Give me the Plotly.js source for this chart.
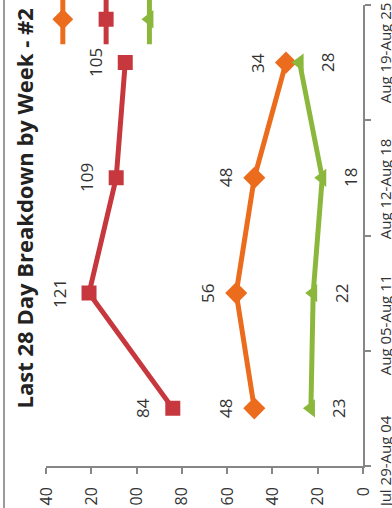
<!DOCTYPE html>
<html>
<head>
<meta charset="utf-8">
<script src="https://cdn.plot.ly/plotly-3.0.1.min.js"></script>
<style>
html,body{margin:0;padding:0;width:392px;height:508px;overflow:hidden;background:#fff;}
#wrap{position:absolute;left:0;top:0;width:508px;height:392px;transform-origin:0 0;transform:translate(0px,508px) rotate(-90deg);}
</style>
</head>
<body>
<div id="wrap"></div>
<script>
// ---- data ----
const categories = ['Jul 29-Aug 04', 'Aug 05-Aug 11', 'Aug 12-Aug 18', 'Aug 19-Aug 25'];
const seriesNames = ['Series 1', 'Series 2', 'Series 3'];
const orangeValues = [48, 56, 48, 34];
const redValues = [84, 121, 109, 105];
const greenValues = [23, 22, 18, 28];
const yTickValues = [0, 20, 40, 60, 80, 100, 120, 140];
const titleText = 'Last 28 Day Breakdown by Week - #2';

// ---- styles ----
const ORANGE = '#EC6C1E', RED = '#C7383E', GREEN = '#8BB83C';
const AXIS = '#868686';
const FONT = 'Open Sans, sans-serif';

function lineTrace(name, values, color, symbol, size) {
  return {
    type: 'scatter', mode: 'lines+markers', name: name,
    x: categories, y: values,
    line: {color: color, width: 5},
    marker: {symbol: symbol, size: size, color: color},
    hoverinfo: 'skip'
  };
}

const categoryIndex = categories.map((c, i) => i);

const traces = [
  lineTrace(seriesNames[0], orangeValues, ORANGE, 'diamond', 17),
  lineTrace(seriesNames[1], redValues, RED, 'square', 15),
  lineTrace(seriesNames[2], greenValues, GREEN, 'triangle-up', 16),
  // carrier for the category label axis (draws nothing)
  {type: 'scatter', mode: 'none', x: categoryIndex, y: redValues, xaxis: 'x2',
   showlegend: false, hoverinfo: 'skip'}
];

function labels(values, shift) {
  return values.map((v, i) => ({
    x: categories[i], y: v, xref: 'x', yref: 'y', text: String(v),
    showarrow: false, yshift: shift, xanchor: 'center', yanchor: 'middle',
    font: {family: FONT, size: 17, color: '#333333'}
  }));
}
const annotations = [].concat(
  labels(orangeValues, 29),
  labels(redValues, 30),
  labels(greenValues, -28)
);

const layout = {
  width: 508, height: 392,
  margin: {l: 42, r: 5, t: 46, b: 29, autoexpand: false},
  paper_bgcolor: '#ffffff', plot_bgcolor: '#ffffff',
  font: {family: FONT, color: '#333333'},
  showlegend: true,
  title: {
    text: '<b>' + titleText + '</b>',
    font: {family: FONT, size: 22, color: '#222222'},
    xref: 'container', x: 0.59, xanchor: 'center',
    yref: 'container', y: 0.936, yanchor: 'middle'
  },
  xaxis: {
    type: 'category', range: [-0.5, 3.5],
    tickson: 'boundaries', ticks: 'outside', ticklen: 6, tickwidth: 2, tickcolor: AXIS,
    showline: true, linecolor: AXIS, linewidth: 2,
    showgrid: false, zeroline: false,
    showticklabels: false,
    fixedrange: true
  },
  xaxis2: {
    overlaying: 'x', anchor: 'y', side: 'bottom',
    type: 'linear', range: [-0.037, 3.353],
    tickmode: 'array', tickvals: categoryIndex, ticktext: categories,
    ticks: 'outside', ticklen: 6, tickcolor: 'rgba(0,0,0,0)',
    showline: false, showgrid: false, zeroline: false,
    tickangle: 0,
    ticklabeloverflow: 'allow',
    tickfont: {family: FONT, size: 15, color: '#333333'},
    ticklabelstandoff: 3,
    fixedrange: true
  },
  yaxis: {
    range: [0, 140], tickvals: yTickValues,
    ticks: 'outside', ticklen: 6, tickwidth: 2, tickcolor: AXIS,
    showline: true, linecolor: AXIS, linewidth: 2,
    showgrid: false, zeroline: false,
    tickfont: {family: FONT, size: 16, color: '#333333'},
    ticklabelstandoff: 10,
    fixedrange: true
  },
  legend: {
    x: 0.904, xanchor: 'left', xref: 'paper',
    y: 1.031, yanchor: 'top', yref: 'paper',
    font: {family: FONT, size: 31, color: '#333333'},
    itemwidth: 50, bgcolor: 'rgba(0,0,0,0)'
  },
  shapes: [{
    type: 'line', xref: 'paper', yref: 'paper',
    x0: -0.2, x1: 1.2, y0: 1.1325, y1: 1.1325,
    line: {color: '#9a9a9a', width: 2}
  }],
  annotations: annotations
};

Plotly.newPlot('wrap', traces, layout, {staticPlot: true, displayModeBar: false});
</script>
</body>
</html>
